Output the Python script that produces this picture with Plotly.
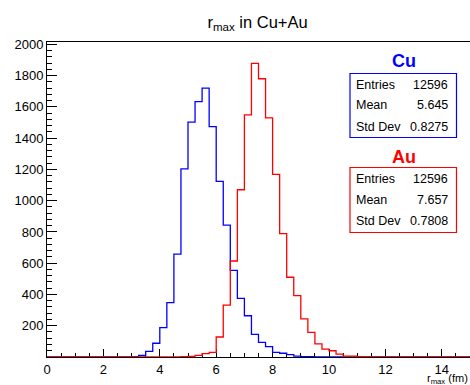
import plotly.graph_objects as go

# ---- data (bin contents, 60 bins of width 0.25 from 0 to 15) ----
x_min = 0.0
bin_width = 0.25
cu_counts = [0, 0, 0, 0, 0, 0, 0, 0, 0, 0,
             0, 1, 3, 11, 36, 88, 188, 348, 658, 1204,
             1503, 1634, 1720, 1474, 1124, 843, 554, 375, 264, 145,
             94, 66, 30, 24, 15, 6, 3, 2, 1, 0,
             0, 0, 0, 0, 0, 0, 0, 0, 0, 0,
             0, 0, 0, 0, 0, 0, 0, 0, 0, 0]
au_counts = [0, 0, 0, 0, 0, 0, 0, 0, 0, 0,
             0, 0, 0, 0, 0, 0, 0, 0, 1, 2,
             4, 11, 22, 30, 128, 332, 614, 1070, 1549, 1878,
             1780, 1530, 1168, 789, 510, 392, 244, 157, 84, 51,
             40, 19, 6, 6, 2, 2, 1, 0, 0, 0,
             0, 0, 0, 0, 0, 0, 0, 0, 0, 0]
stat_labels = ["Entries", "Mean", "Std Dev"]
cu_stats = ["12596", "5.645", "0.8275"]
au_stats = ["12596", "7.657", "0.7808"]
y_ticks = [200, 400, 600, 800, 1000, 1200, 1400, 1600, 1800, 2000]
x_ticks = [0, 2, 4, 6, 8, 10, 12, 14]

W, H = 470, 385
L, R, T, B = 47, 0, 42, 28
PW, PH = W - L - R, H - T - B

def px(x):
    return (x - L) / PW

def py(y):
    return (H - B - y) / PH

def hist_xy(counts):
    edges = [x_min + i * bin_width for i in range(len(counts) + 1)]
    ys = list(counts) + [counts[-1]]
    return edges, ys

fig = go.Figure()
for counts, color in [(cu_counts, "#0000ff"), (au_counts, "#ff0000")]:
    xs, ys = hist_xy(counts)
    fig.add_trace(go.Scatter(x=xs, y=ys, mode="lines", line=dict(color=color, width=1.3, shape="hv"),
                             showlegend=False, hoverinfo="skip"))

font = "Liberation Sans, Arial, sans-serif"
fig.update_layout(
    width=W, height=H, margin=dict(l=L, r=R, t=T, b=B),
    paper_bgcolor="white", plot_bgcolor="white",
    font=dict(family=font, color="black"),
    title=dict(text="r<sub>max</sub> in Cu+Au", x=257.5 / W, xanchor="center", y=1 - 22 / H, yanchor="middle",
               font=dict(size=16.5, family=font)),
    xaxis=dict(range=[0, 15], showgrid=False, zeroline=False, showline=True, linecolor="black", linewidth=1,
               mirror=True, ticks="inside", ticklen=8, tickcolor="black", tickvals=x_ticks,
               minor=dict(dtick=0.5, tick0=0, ticks="inside", ticklen=4, tickcolor="black"),
               tickfont=dict(size=13, family=font), layer="below traces"),
    yaxis=dict(range=[0, 2015], showgrid=False, zeroline=False, showline=True, linecolor="black", linewidth=1,
               ticks="inside", ticklen=10, tickcolor="black", tickvals=y_ticks,
               minor=dict(dtick=40, tick0=0, ticks="inside", ticklen=5, tickcolor="black"),
               tickfont=dict(size=13, family=font), layer="below traces"),
)

annotations = []
shapes = []
# axis title
annotations.append(dict(text="r<sub>max</sub> (fm)", x=1, y=py(379), xref="paper", yref="paper",
                        xanchor="right", yanchor="middle", showarrow=False, font=dict(size=11, family=font)))

def stat_box(name, color, stats, title_y, box_top, box_bot, rows_y):
    annotations.append(dict(text="<b>%s</b>" % name, x=px(403.5), y=py(title_y), xref="paper", yref="paper",
                            xanchor="center", yanchor="middle", showarrow=False,
                            font=dict(size=18, color=color, family=font)))
    shapes.append(dict(type="rect", xref="paper", yref="paper", x0=px(350), x1=px(456.5),
                       y0=py(box_bot), y1=py(box_top), line=dict(color=color, width=1.2),
                       fillcolor="white", layer="above"))
    for lab, val, yy in zip(stat_labels, stats, rows_y):
        annotations.append(dict(text=lab, x=px(354), y=py(yy), xref="paper", yref="paper",
                                xanchor="left", yanchor="middle", showarrow=False,
                                font=dict(size=12.5, family=font)))
        annotations.append(dict(text=val, x=px(450), y=py(yy), xref="paper", yref="paper",
                                xanchor="right", yanchor="middle", showarrow=False,
                                font=dict(size=12.5, family=font)))

stat_box("Cu", "#0000ff", cu_stats, 61, 73.5, 137.5, [85, 105.5, 126.5])
stat_box("Au", "#ff0000", au_stats, 157, 167.5, 232.5, [178.5, 199.5, 221])

fig.update_layout(annotations=annotations, shapes=shapes)
fig.write_html("out.html")
